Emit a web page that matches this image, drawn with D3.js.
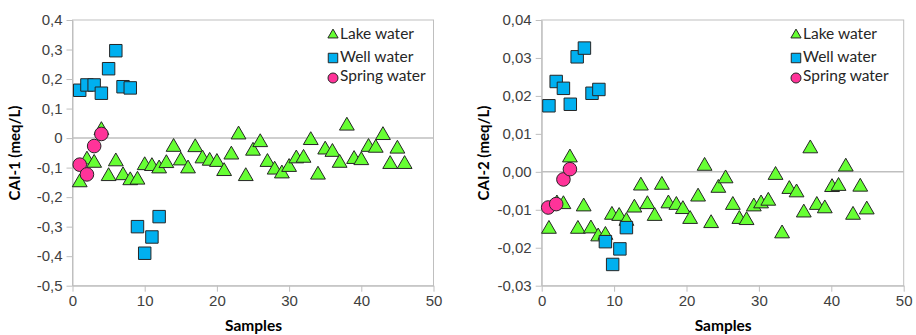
<!DOCTYPE html>
<html>
<head>
<meta charset="utf-8">
<script src="https://cdn.jsdelivr.net/npm/d3@7"></script>
<style>
  body { margin: 0; background: #fff; }
  svg { font-family: Lato, "Open Sans", sans-serif; }
  .axis path, .axis line { stroke: #bfbfbf; }
  .axis text { fill: #404040; font-size: 15px; }
</style>
</head>
<body>
<svg width="916" height="335"></svg>
<script>

// CAI-1 chart
var lakeX1 = [1,2,3,4,5,6,7,8,9,10,11,12,13,14,15,16,17,18,19,20,21,22,23,24,25,26,27,28,29,30,31,32,33,34,35,36,37,38,39,40,41,42,43,44,45,46];
var lake1 = [-0.147,-0.07,-0.081,0.03,-0.126,-0.076,-0.123,-0.14,-0.138,-0.089,-0.092,-0.1,-0.082,-0.027,-0.073,-0.1,-0.028,-0.066,-0.074,-0.078,-0.109,-0.053,0.015,-0.126,-0.04,-0.011,-0.078,-0.104,-0.117,-0.095,-0.066,-0.064,-0.004,-0.121,-0.036,-0.044,-0.081,0.045,-0.068,-0.072,-0.027,-0.03,0.013,-0.085,-0.033,-0.085];
var wellX1 = [1,2,3,4,5,6,7,8,9,10,11,12];
var well1 = [0.162,0.18,0.18,0.152,0.235,0.296,0.174,0.17,-0.30,-0.39,-0.335,-0.266];
var springX1 = [1,2,3,4];
var spring1 = [-0.09,-0.123,-0.027,0.014];
var yTicks1 = [-0.5,-0.4,-0.3,-0.2,-0.1,0,0.1,0.2,0.3,0.4];

// CAI-2 chart
var lakeX2 = [1.0,2.1,3.0,3.9,5.0,5.8,6.8,7.8,8.8,9.7,10.7,11.7,12.8,13.7,14.6,15.6,16.6,17.5,18.6,19.5,20.5,21.6,22.5,23.4,24.4,25.4,26.4,27.3,28.3,29.3,30.3,31.3,32.3,33.2,34.2,35.2,36.2,37.1,38.0,39.1,40.1,41.0,42.0,43.0,44.0,44.9];
var lake2 = [-0.0148,-0.0081,-0.0083,0.004,-0.0148,-0.0089,-0.0147,-0.0168,-0.0164,-0.0111,-0.0114,-0.0127,-0.0092,-0.0034,-0.0083,-0.0114,-0.0032,-0.0081,-0.0085,-0.0096,-0.0122,-0.0063,0.0018,-0.0133,-0.004,-0.0015,-0.0085,-0.0122,-0.0125,-0.0089,-0.0081,-0.0074,-0.0006,-0.016,-0.0043,-0.0052,-0.0105,0.0064,-0.0085,-0.0094,-0.0038,-0.0035,0.0016,-0.0111,-0.0037,-0.0097];
var wellX2 = [1.0,2.0,3.0,3.95,4.9,5.9,6.95,7.9,8.8,9.8,10.8,11.7];
var well2 = [0.0174,0.0238,0.022,0.0178,0.0303,0.0326,0.0207,0.0217,-0.0184,-0.0244,-0.0203,-0.0147];
var springX2 = [0.9,2.0,3.0,3.9];
var spring2 = [-0.0094,-0.0085,-0.002,0.0007];
var yTicks2 = [-0.03,-0.02,-0.01,0,0.01,0.02,0.03,0.04];

var xTicks = [0,10,20,30,40,50];
var seriesNames = ["Lake water", "Well water", "Spring water"];

var locale = d3.formatLocale({decimal: ",", thousands: ".", grouping: [3], currency: ["", "€"], minus: "-"});

var svg = d3.select("svg");

function zip(xs, ys) {
  return xs.map(function(x, i) { return {x: x, y: ys[i]}; });
}

function drawChart(c) {
  var x = d3.scaleLinear().domain([0, 50]).range([c.left, c.right]);
  var y = d3.scaleLinear().domain(c.yDomain).range([285.7, 20]);
  var g = svg.append("g");

  // plot area border
  g.append("rect")
    .attr("x", x(0)).attr("y", y(c.yDomain[1]))
    .attr("width", x(50) - x(0)).attr("height", y(c.yDomain[0]) - y(c.yDomain[1]))
    .attr("fill", "none").attr("stroke", "#bfbfbf");

  // zero line
  g.append("line")
    .attr("x1", x(0)).attr("x2", x(50))
    .attr("y1", y(0)).attr("y2", y(0))
    .attr("stroke", "#bfbfbf").attr("stroke-width", 1.5);

  g.append("g")
    .attr("class", "axis")
    .attr("transform", "translate(" + x(0) + ",0)")
    .call(d3.axisLeft(y).tickValues(c.yTicks).tickSize(6).tickSizeOuter(0).tickPadding(4).tickFormat(c.fmt));

  g.append("g")
    .attr("class", "axis")
    .attr("transform", "translate(0," + y(c.yDomain[0]) + ")")
    .call(d3.axisBottom(x).tickValues(xTicks).tickSize(6).tickSizeOuter(0).tickPadding(4));

  g.selectAll(".axis text").attr("font-family", null);

  var tri = d3.symbol().type(d3.symbolTriangle).size(95);
  var sq = d3.symbol().type(d3.symbolSquare).size(155);

  g.append("g").selectAll("path")
    .data(zip(c.lakeX, c.lake))
    .enter().append("path")
      .attr("d", tri)
      .attr("transform", function(d) { return "translate(" + x(d.x) + "," + (y(d.y) + 1) + ")"; })
      .attr("fill", "#66ff33").attr("stroke", "#262626").attr("stroke-width", 1);

  g.append("g").selectAll("path")
    .data(zip(c.wellX, c.well))
    .enter().append("path")
      .attr("d", sq)
      .attr("transform", function(d) { return "translate(" + x(d.x) + "," + y(d.y) + ")"; })
      .attr("fill", "#00b0f0").attr("stroke", "#262626").attr("stroke-width", 1);

  g.append("g").selectAll("circle")
    .data(zip(c.springX, c.spring))
    .enter().append("circle")
      .attr("cx", function(d) { return x(d.x); })
      .attr("cy", function(d) { return y(d.y); })
      .attr("r", 6.8)
      .attr("fill", "#ff3399").attr("stroke", "#262626").attr("stroke-width", 1);

  g.append("text")
    .attr("transform", "translate(" + c.titleX + ",153) rotate(-90)")
    .attr("text-anchor", "middle")
    .attr("font-weight", "bold").attr("font-size", 15)
    .text(c.title);

  g.append("text")
    .attr("x", (x(0) + x(50)) / 2 + 0.5).attr("y", 331)
    .attr("text-anchor", "middle")
    .attr("font-weight", "bold").attr("font-size", 15.5)
    .text("Samples");

  // legend
  var lg = g.append("g").attr("transform", "translate(" + c.legendX + ",0)");
  var rows = [34, 57, 76];
  lg.selectAll("text")
    .data(seriesNames)
    .enter().append("text")
      .attr("x", 7).attr("y", function(d, i) { return rows[i]; })
      .attr("dy", "0.35em")
      .attr("font-size", 15.5).attr("fill", "#262626")
      .text(function(d) { return d; });
  lg.append("path")
    .attr("d", d3.symbol().type(d3.symbolTriangle).size(45))
    .attr("transform", "translate(0," + (rows[0] + 1) + ")")
    .attr("fill", "#66ff33").attr("stroke", "#262626");
  lg.append("path")
    .attr("d", d3.symbol().type(d3.symbolSquare).size(90))
    .attr("transform", "translate(0," + (rows[1] + 1) + ")")
    .attr("fill", "#00b0f0").attr("stroke", "#262626");
  lg.append("circle")
    .attr("cx", 0).attr("cy", rows[2] + 2).attr("r", 5)
    .attr("fill", "#ff3399").attr("stroke", "#262626");
}

drawChart({
  left: 72.5, right: 433.5,
  yDomain: [-0.5, 0.4], yTicks: yTicks1,
  fmt: function(d) { return d === 0 ? "0" : locale.format(".1f")(d); },
  lakeX: lakeX1, lake: lake1, wellX: wellX1, well: well1, springX: springX1, spring: spring1,
  title: "CAI-1 (meq/L)", titleX: 20, legendX: 333
});

drawChart({
  left: 541.7, right: 903.7,
  yDomain: [-0.03, 0.04], yTicks: yTicks2,
  fmt: locale.format(".2f"),
  lakeX: lakeX2, lake: lake2, wellX: wellX2, well: well2, springX: springX2, spring: spring2,
  title: "CAI-2 (meq/L)", titleX: 489, legendX: 796
});
</script>
</body>
</html>
